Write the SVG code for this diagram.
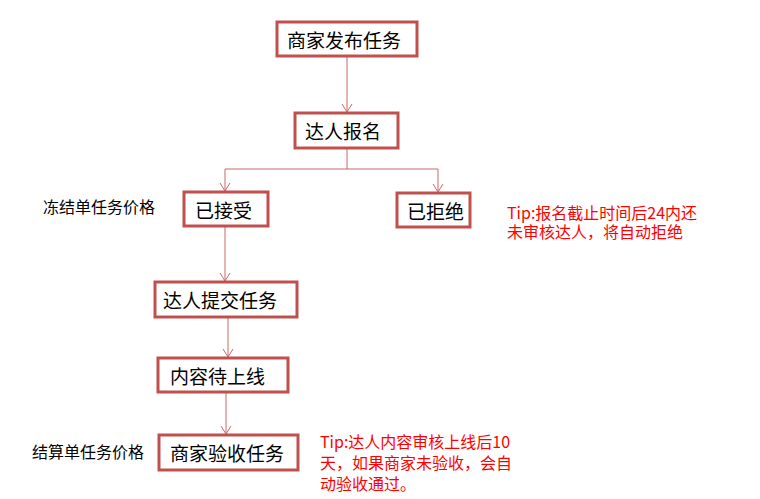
<svg xmlns="http://www.w3.org/2000/svg" width="760" height="499" viewBox="0 0 760 499">
<defs>
<marker id="arr" markerWidth="12" markerHeight="12" refX="10" refY="6" orient="auto" markerUnits="userSpaceOnUse">
<path d="M2,1 L10,6 L2,11" fill="none" stroke="#c0504d" stroke-width="1"/>
</marker>
<style>
.box{fill:#fff;stroke:#c0504d;stroke-width:3}
.bt{font-family:"Noto Sans CJK SC","Microsoft YaHei",sans-serif;font-size:19px;fill:#000;dominant-baseline:central}
.lbl{font-family:"Noto Sans CJK SC","Microsoft YaHei",sans-serif;font-size:16px;fill:#000}
.tip{font-family:"Noto Sans CJK SC","Microsoft YaHei",sans-serif;font-size:16px;fill:#ff0000}
.con{fill:none;stroke:#c0504d;stroke-width:1;opacity:0.85}
</style>
</defs>
<rect width="760" height="499" fill="#fff"/>
<g id="connectors">
<path class="con" d="M347,57 L347,112" marker-end="url(#arr)"/>
<path class="con" d="M347,149 L347,169 L225,169 L225,191" marker-end="url(#arr)"/>
<path class="con" d="M347,169 L438,169 L438,192" marker-end="url(#arr)"/>
<path class="con" d="M225,227 L225,281" marker-end="url(#arr)"/>
<path class="con" d="M228,318 L228,357" marker-end="url(#arr)"/>
<path class="con" d="M226,393 L226,434" marker-end="url(#arr)"/>
</g>
<g id="n1"><rect class="box" x="277" y="22" width="140" height="34"/><text class="bt" x="287" y="39">商家发布任务</text></g>
<g id="n2"><rect class="box" x="295" y="113" width="103" height="35"/><text class="bt" x="305" y="130.5">达人报名</text></g>
<g id="n3"><rect class="box" x="184" y="192" width="84" height="34"/><text class="bt" x="195" y="209">已接受</text></g>
<g id="n4"><rect class="box" x="397" y="193" width="73" height="34"/><text class="bt" x="407" y="210">已拒绝</text></g>
<g id="n5"><rect class="box" x="155" y="282" width="142" height="35"/><text class="bt" x="163" y="299.5">达人提交任务</text></g>
<g id="n6"><rect class="box" x="158" y="358" width="130" height="34"/><text class="bt" x="170" y="375">内容待上线</text></g>
<g id="n7"><rect class="box" x="159" y="435" width="139" height="35"/><text class="bt" x="170" y="452.5">商家验收任务</text></g>
<text class="lbl" x="43" y="213">冻结单任务价格</text>
<text class="lbl" x="32" y="458">结算单任务价格</text>
<text class="tip"><tspan x="507" y="219">Tip:报名截止时间后24内还</tspan><tspan x="507" y="238">未审核达人，将自动拒绝</tspan></text>
<text class="tip"><tspan x="320" y="448">Tip:达人内容审核上线后10</tspan><tspan x="320" y="469">天，如果商家未验收，会自</tspan><tspan x="320" y="490">动验收通过。</tspan></text>
</svg>
